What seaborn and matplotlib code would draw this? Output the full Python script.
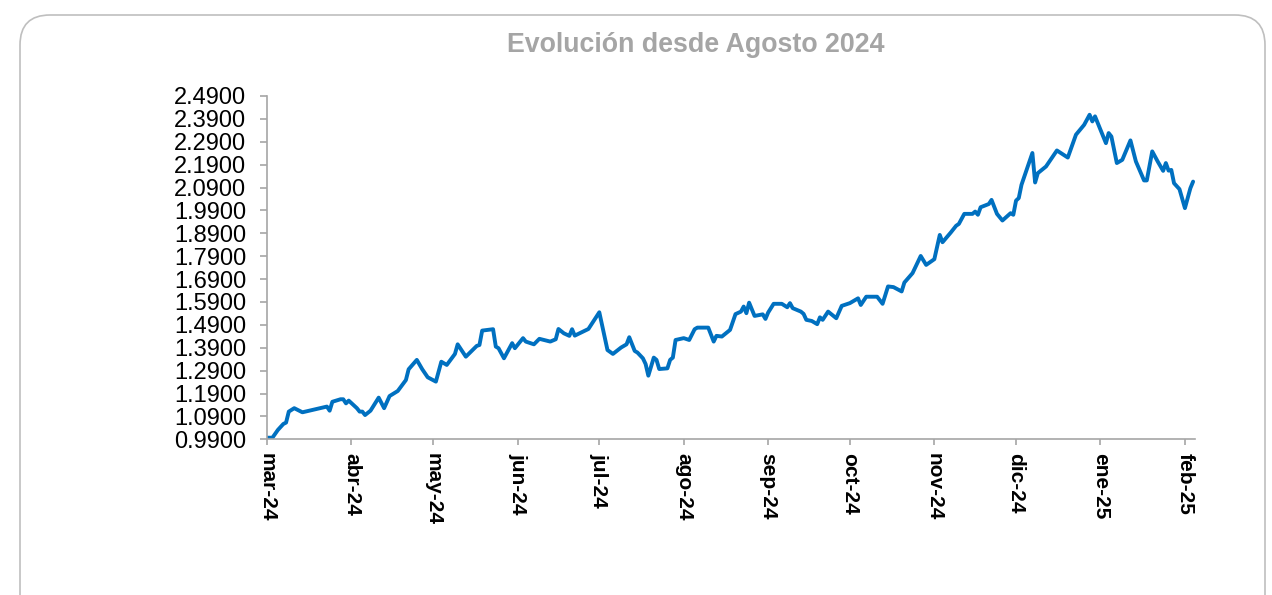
import pandas as pd
import matplotlib.pyplot as plt
import seaborn as sns
from matplotlib.patches import FancyBboxPatch

# ==========================================
# DATOS
# ==========================================
FECHA_INICIO = pd.Timestamp("2024-03-01")

# días transcurridos desde el 1 de marzo de 2024
dias = [0, 2, 4, 6, 7, 8, 10, 13, 22, 23, 24, 27, 28, 29, 30, 33, 34, 35, 36, 38,
        41, 43, 45, 48, 51, 52, 55, 57, 59, 62, 64, 66, 69, 70, 73, 77, 78, 79, 83, 84,
        85, 87, 90, 91, 94, 95, 98, 100, 104, 106, 107, 109, 111, 112, 113, 118, 122, 125, 127, 130,
        132, 133, 135, 136, 138, 139, 140, 142, 143, 144, 147, 148, 149, 150, 153, 155, 157, 158, 162, 164,
        165, 167, 170, 172, 174, 175, 176, 177, 179, 182, 183, 184, 186, 189, 191, 192, 193, 196, 197, 198,
        200, 202, 203, 204, 206, 209, 211, 214, 217, 218, 220, 224, 226, 228, 230, 233, 234, 237, 240, 242,
        245, 247, 248, 251, 253, 254, 256, 259, 260, 261, 262, 265, 266, 268, 270, 273, 274, 275, 276, 277,
        281, 282, 283, 286, 290, 294, 297, 300, 302, 303, 304, 308, 309, 310, 312, 314, 317, 319, 322, 323,
        325, 327, 329, 330, 331, 332, 333, 335, 337, 339, 340]

valores = [0.997, 0.997, 1.031, 1.057, 1.063, 1.111, 1.126, 1.108, 1.133, 1.115, 1.154, 1.165, 1.165, 1.147, 1.159, 1.126, 1.111, 1.111, 1.096, 1.115,
           1.172, 1.126, 1.179, 1.201, 1.249, 1.296, 1.337, 1.296, 1.261, 1.242, 1.329, 1.315, 1.363, 1.405, 1.351, 1.398, 1.402, 1.465, 1.471, 1.395,
           1.388, 1.344, 1.410, 1.388, 1.432, 1.417, 1.405, 1.429, 1.417, 1.427, 1.472, 1.453, 1.442, 1.471, 1.443, 1.472, 1.545, 1.380, 1.363, 1.391,
           1.405, 1.436, 1.376, 1.369, 1.344, 1.319, 1.268, 1.347, 1.337, 1.297, 1.300, 1.337, 1.347, 1.424, 1.432, 1.424, 1.471, 1.478, 1.478, 1.417,
           1.442, 1.439, 1.468, 1.537, 1.548, 1.570, 1.541, 1.587, 1.529, 1.536, 1.516, 1.544, 1.582, 1.582, 1.567, 1.585, 1.563, 1.548, 1.538, 1.512,
           1.507, 1.493, 1.523, 1.512, 1.548, 1.519, 1.573, 1.585, 1.606, 1.577, 1.613, 1.613, 1.582, 1.658, 1.655, 1.636, 1.675, 1.716, 1.791, 1.752,
           1.777, 1.883, 1.851, 1.893, 1.923, 1.931, 1.975, 1.975, 1.985, 1.971, 2.004, 2.018, 2.036, 1.975, 1.946, 1.978, 1.971, 2.033, 2.044, 2.102,
           2.241, 2.112, 2.153, 2.182, 2.252, 2.221, 2.321, 2.364, 2.408, 2.379, 2.401, 2.284, 2.328, 2.313, 2.197, 2.211, 2.296, 2.204, 2.121, 2.121,
           2.248, 2.204, 2.163, 2.197, 2.164, 2.167, 2.109, 2.083, 2.000, 2.087, 2.116]

meses = ["2024-03-01", "2024-04-01", "2024-05-01", "2024-06-01", "2024-07-01", "2024-08-01",
         "2024-09-01", "2024-10-01", "2024-11-01", "2024-12-01", "2025-01-01", "2025-02-01"]
etiquetas_meses = ["mar-24", "abr-24", "may-24", "jun-24", "jul-24", "ago-24",
                   "sep-24", "oct-24", "nov-24", "dic-24", "ene-25", "feb-25"]

ticks_y = [0.99, 1.09, 1.19, 1.29, 1.39, 1.49, 1.59, 1.69, 1.79, 1.89, 1.99, 2.09, 2.19, 2.29, 2.39, 2.49]

TITULO = "Evolución desde Agosto 2024"
COLOR_LINEA = "#0070C0"
COLOR_EJE = "#A6A6A6"

# ==========================================
# ESTILO
# ==========================================
sns.set_theme(style="ticks")
plt.rcParams["font.family"] = ["Liberation Sans", "DejaVu Sans"]

df = pd.DataFrame({
    "fecha": FECHA_INICIO + pd.to_timedelta(dias, unit="D"),
    "valor": valores,
})

fig = plt.figure(figsize=(12.72, 5.95), dpi=100)

# marco redondeado del gráfico (sin relleno para no tapar el eje)
marco = FancyBboxPatch((0.20, -0.5), 12.45, 6.3,
                       boxstyle="round,pad=0,rounding_size=0.3",
                       transform=fig.dpi_scale_trans, facecolor="none",
                       edgecolor="#BFBFBF", linewidth=1.2, zorder=0)
fig.patches.append(marco)

ax = fig.add_axes([267 / 1272, 1 - 439.3 / 595, (1195 - 267) / 1272, (439.3 - 96) / 595])
ax.set_facecolor("none")

sns.lineplot(data=df, x="fecha", y="valor", ax=ax, color=COLOR_LINEA,
             linewidth=2.8, estimator=None, sort=False)

ax.set_xlim(FECHA_INICIO, FECHA_INICIO + pd.Timedelta(days=340.7))
ax.set_ylim(0.99, 2.49)

ax.set_yticks(ticks_y)
ax.set_yticklabels([f"{v:.4f}" for v in ticks_y], fontsize=17, color="black")
ax.set_xticks(pd.to_datetime(meses))
ax.set_xticklabels(etiquetas_meses, rotation=-90, fontsize=15, fontweight="bold",
                   color="black", va="top", ha="center")

ax.tick_params(axis="y", left=True, length=5, width=1.2, color=COLOR_EJE, pad=10)
ax.tick_params(axis="x", bottom=True, length=4, width=1.2, color=COLOR_EJE, pad=6)

sns.despine(ax=ax)
for lado in ["left", "bottom"]:
    ax.spines[lado].set_color(COLOR_EJE)
    ax.spines[lado].set_linewidth(1.2)

ax.set_xlabel("")
ax.set_ylabel("")
ax.grid(False)

fig.text(696 / 1272, 1 - 45 / 595, TITULO, ha="center", va="center",
         fontsize=19.3, fontweight="bold", color="#A5A5A5")

plt.savefig("out.png", dpi=100)
plt.close()
